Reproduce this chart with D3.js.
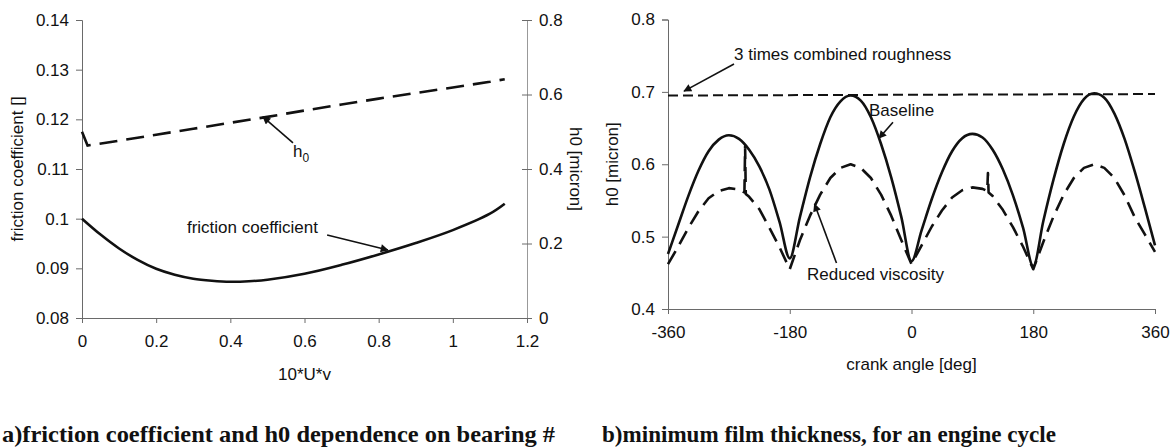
<!DOCTYPE html>
<html>
<head>
<meta charset="utf-8">
<script src="https://cdn.jsdelivr.net/npm/d3@7"></script>
<style>
  html, body { margin: 0; padding: 0; background: #fff; }
  svg { display: block; }
  text { font-family: "Liberation Sans", Arial, sans-serif; fill: #111; }
  .cap { font-family: "Liberation Serif", "Times New Roman", serif; font-weight: bold; }
</style>
</head>
<body>
<svg id="chart" width="1175" height="448"></svg>
<script>
// ---------- Data: chart (a) ----------
const uvX        = [0, 0.05, 0.1, 0.15, 0.2, 0.25, 0.3, 0.35, 0.4, 0.45, 0.5, 0.6, 0.7, 0.8, 0.9, 1.0, 1.1, 1.14];
const frictionY  = [0.1, 0.0968, 0.0940, 0.0917, 0.0899, 0.0887, 0.0879, 0.0875, 0.0873, 0.0874, 0.0877, 0.0889, 0.0907, 0.0928, 0.0951, 0.0977, 0.1010, 0.1030];
const h0X        = [0, 0.015, 0.1, 0.2, 0.3, 0.4, 0.5, 0.6, 0.7, 0.8, 0.9, 1.0, 1.1, 1.14];
const h0Y        = [0.500, 0.463, 0.476, 0.492, 0.508, 0.524, 0.540, 0.557, 0.573, 0.589, 0.604, 0.619, 0.634, 0.641];
const aXTicks    = [0, 0.2, 0.4, 0.6, 0.8, 1, 1.2];
const aXLabels   = ["0", "0.2", "0.4", "0.6", "0.8", "1", "1.2"];
const aYTicks    = [0.08, 0.09, 0.1, 0.11, 0.12, 0.13, 0.14];
const aYLabels   = ["0.08", "0.09", "0.1", "0.11", "0.12", "0.13", "0.14"];
const aY2Ticks   = [0, 0.2, 0.4, 0.6, 0.8];
const aY2Labels  = ["0", "0.2", "0.4", "0.6", "0.8"];

// ---------- Data: chart (b) ----------
const baseAngle = [-360,-345,-330,-315,-300,-285,-270,-255,-240,-225,-210,-195,-180,
                   -165,-150,-135,-120,-105,-90,-75,-60,-45,-30,-15,0,
                   15,30,45,60,75,90,105,120,135,150,165,180,
                   195,210,225,240,255,270,285,300,315,330,345,360];
const baseH0    = [0.476,0.516,0.556,0.591,0.618,0.634,0.640,0.635,0.620,0.597,0.565,0.520,0.470,
                   0.527,0.582,0.628,0.665,0.687,0.695,0.688,0.665,0.628,0.582,0.527,0.466,
                   0.509,0.552,0.589,0.618,0.636,0.642,0.637,0.620,0.593,0.557,0.512,0.459,
                   0.522,0.579,0.628,0.666,0.690,0.698,0.692,0.670,0.635,0.590,0.540,0.488];
const redAngle  = [-360,-345,-330,-315,-300,-285,-270,-255,-247,-246,-245,-240,-225,-210,-195,-180,
                   -165,-150,-135,-120,-105,-90,-75,-60,-45,-30,-15,0,
                   15,30,45,60,75,90,105,112,113,114,120,135,150,165,180,
                   195,210,225,240,255,270,285,300,315,330,345,360];
const redH0     = [0.462,0.486,0.512,0.535,0.553,0.563,0.567,0.565,0.561,0.625,0.559,0.555,0.538,0.512,0.485,0.455,
                   0.495,0.529,0.558,0.581,0.595,0.600,0.595,0.581,0.558,0.529,0.495,0.462,
                   0.488,0.514,0.536,0.554,0.564,0.568,0.566,0.563,0.588,0.561,0.556,0.537,0.513,0.486,0.455,
                   0.493,0.528,0.558,0.581,0.595,0.600,0.595,0.581,0.557,0.527,0.503,0.479];
const roughAngle = [-360, 360];
const roughH0    = [0.695, 0.697];
const bXTicks   = [-360, -180, 0, 180, 360];
const bXLabels  = ["-360", "-180", "0", "180", "360"];
const bYTicks   = [0.4, 0.5, 0.6, 0.7, 0.8];
const bYLabels  = ["0.4", "0.5", "0.6", "0.7", "0.8"];

// ---------- Drawing ----------
const svg = d3.select("#chart");
const FS = 17;
const AX = "#6a6a6a";

svg.append("defs").append("marker")
  .attr("id", "arr").attr("viewBox", "0 0 10 10").attr("refX", 9).attr("refY", 5)
  .attr("markerWidth", 10).attr("markerHeight", 8).attr("markerUnits", "userSpaceOnUse")
  .attr("orient", "auto")
  .append("path").attr("d", "M0,0 L10,5 L0,10 Z").attr("fill", "#111");

function styleAxis(g, labels) {
  g.select(".domain").attr("stroke", AX).attr("stroke-width", 1);
  g.selectAll(".tick line").attr("stroke", AX);
  g.selectAll(".tick text").attr("font-size", FS).attr("font-family", "Liberation Sans, Arial, sans-serif")
    .attr("fill", "#111").text((d, i) => labels[i]);
}

// Chart a
const xA  = d3.scaleLinear().domain([0, 1.2]).range([82, 527]);
const yA  = d3.scaleLinear().domain([0.08, 0.14]).range([318, 20]);
const yA2 = d3.scaleLinear().domain([0, 0.8]).range([318, 20]);

const gaX = svg.append("g").attr("transform", "translate(0,318)")
  .call(d3.axisBottom(xA).tickValues(aXTicks).tickSizeOuter(0).tickSize(5).tickPadding(12));
styleAxis(gaX, aXLabels);
const gaY = svg.append("g").attr("transform", "translate(82,0)")
  .call(d3.axisLeft(yA).tickValues(aYTicks).tickSizeOuter(0).tickSize(6).tickPadding(7));
styleAxis(gaY, aYLabels);
const gaY2 = svg.append("g").attr("transform", "translate(527,0)")
  .call(d3.axisRight(yA2).tickValues(aY2Ticks).tickSizeOuter(0).tickSize(5).tickPadding(7));
styleAxis(gaY2, aY2Labels);
gaY2.selectAll(".tick line").attr("x1", -5);
gaY2.select(".domain").attr("stroke", "#999");

const lineA = d3.line().x(d => xA(d[0])).y(d => yA(d[1])).curve(d3.curveCatmullRom);
const lineA2 = d3.line().x(d => xA(d[0])).y(d => yA2(d[1]));
svg.append("path").datum(uvX.map((x, i) => [x, frictionY[i]]))
  .attr("d", lineA).attr("fill", "none").attr("stroke", "#111").attr("stroke-width", 2.6);
svg.append("path").datum(h0X.map((x, i) => [x, h0Y[i]]))
  .attr("d", lineA2).attr("fill", "none").attr("stroke", "#111").attr("stroke-width", 2.6)
  .attr("stroke-dasharray", "18,9");

svg.append("text").attr("transform", `translate(23,${(20 + 318) / 2}) rotate(-90)`)
  .attr("text-anchor", "middle").attr("font-size", FS).text("friction coefficient []");
svg.append("text").attr("transform", `translate(570,${(20 + 318) / 2}) rotate(90)`)
  .attr("text-anchor", "middle").attr("font-size", FS).text("h0 [micron]");
svg.append("text").attr("x", (82 + 527) / 2).attr("y", 380)
  .attr("text-anchor", "middle").attr("font-size", FS).text("10*U*v");

// annotations a
svg.append("line").attr("x1", xA(0.569)).attr("y1", yA2(0.470)).attr("x2", xA(0.488)).attr("y2", yA2(0.540))
  .attr("stroke", "#111").attr("stroke-width", 1.6).attr("marker-end", "url(#arr)");
const h0t = svg.append("text").attr("x", xA(0.569)).attr("y", yA2(0.432)).attr("font-size", FS);
h0t.append("tspan").text("h");
h0t.append("tspan").attr("font-size", 12).attr("dy", 5).text("0");
svg.append("text").attr("x", xA(0.283)).attr("y", yA(0.0971)).attr("font-size", FS).text("friction coefficient");
svg.append("line").attr("x1", xA(0.661)).attr("y1", yA(0.0967)).attr("x2", xA(0.825)).attr("y2", yA(0.0937))
  .attr("stroke", "#111").attr("stroke-width", 1.6).attr("marker-end", "url(#arr)");

svg.append("text").attr("class", "cap").attr("x", 2).attr("y", 442).attr("font-size", 23)
  .attr("textLength", 553).attr("lengthAdjust", "spacingAndGlyphs")
  .text("a)friction coefficient and h0 dependence on bearing #");

// Chart b
const xB = d3.scaleLinear().domain([-360, 360]).range([668, 1155]);
const yB = d3.scaleLinear().domain([0.4, 0.8]).range([309, 19.5]);

const gbX = svg.append("g").attr("transform", "translate(0,309)")
  .call(d3.axisBottom(xB).tickValues(bXTicks).tickSizeOuter(0).tickSize(5).tickPadding(12));
styleAxis(gbX, bXLabels);
const gbY = svg.append("g").attr("transform", "translate(668,0)")
  .call(d3.axisLeft(yB).tickValues(bYTicks).tickSizeOuter(0).tickSize(6).tickPadding(7));
styleAxis(gbY, bYLabels);

const lineB = d3.line().x(d => xB(d[0])).y(d => yB(d[1])).curve(d3.curveMonotoneX);
const lineBL = d3.line().x(d => xB(d[0])).y(d => yB(d[1]));
svg.append("path").datum(roughAngle.map((a, i) => [a, roughH0[i]]))
  .attr("d", lineBL).attr("fill", "none").attr("stroke", "#111").attr("stroke-width", 2)
  .attr("stroke-dasharray", "10,5");
svg.append("path").datum(baseAngle.map((a, i) => [a, baseH0[i]]))
  .attr("d", lineB).attr("fill", "none").attr("stroke", "#111").attr("stroke-width", 2.6);
svg.append("path").datum(redAngle.map((a, i) => [a, redH0[i]]))
  .attr("d", lineBL).attr("fill", "none").attr("stroke", "#111").attr("stroke-width", 2.6)
  .attr("stroke-dasharray", "15,8").attr("stroke-linejoin", "round");

svg.append("text").attr("transform", `translate(618,${(19.5 + 309) / 2}) rotate(-90)`)
  .attr("text-anchor", "middle").attr("font-size", FS).text("h0 [micron]");
svg.append("text").attr("x", (668 + 1155) / 2).attr("y", 370)
  .attr("text-anchor", "middle").attr("font-size", FS).text("crank angle [deg]");

// annotations b
svg.append("text").attr("x", xB(-262.4)).attr("y", yB(0.744)).attr("font-size", FS).text("3 times combined roughness");
svg.append("line").attr("x1", xB(-262.4)).attr("y1", yB(0.7385)).attr("x2", xB(-336.3)).attr("y2", yB(0.701))
  .attr("stroke", "#111").attr("stroke-width", 1.6).attr("marker-end", "url(#arr)");
svg.append("text").attr("x", xB(-62.8)).attr("y", yB(0.667)).attr("font-size", FS).text("Baseline");
svg.append("line").attr("x1", xB(-27.4)).attr("y1", yB(0.658)).attr("x2", xB(-48.1)).attr("y2", yB(0.636))
  .attr("stroke", "#111").attr("stroke-width", 1.6).attr("marker-end", "url(#arr)");
svg.append("text").attr("x", xB(-154.5)).attr("y", yB(0.440)).attr("font-size", FS).text("Reduced viscosity");
svg.append("line").attr("x1", xB(-110.9)).attr("y1", yB(0.4636)).attr("x2", xB(-143.4)).attr("y2", yB(0.545))
  .attr("stroke", "#111").attr("stroke-width", 1.6).attr("marker-end", "url(#arr)");

svg.append("text").attr("class", "cap").attr("x", 602).attr("y", 442).attr("font-size", 23)
  .attr("textLength", 454).attr("lengthAdjust", "spacingAndGlyphs")
  .text("b)minimum film thickness, for an engine cycle");
</script>
</body>
</html>
